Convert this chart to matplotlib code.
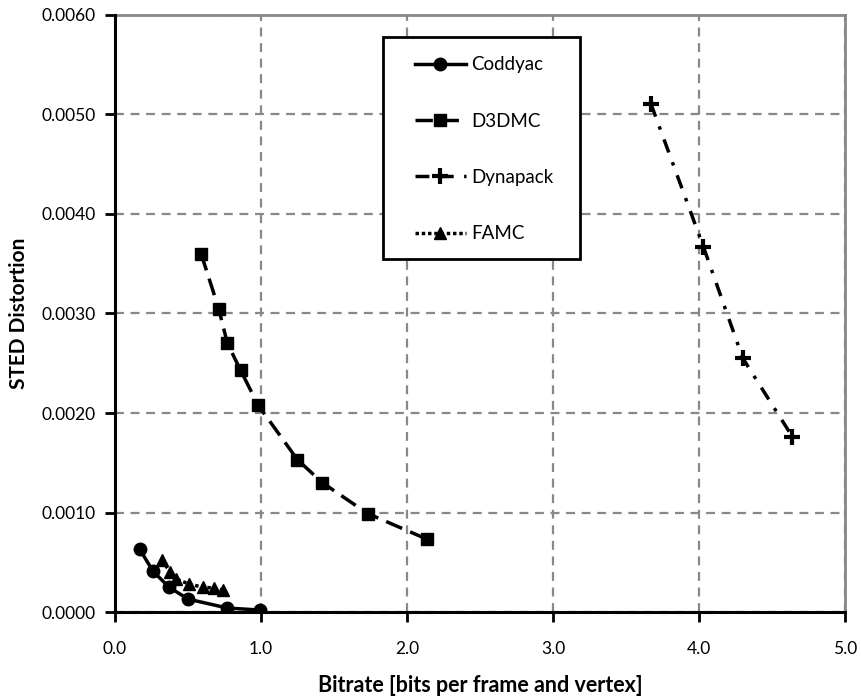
import numpy as np
import matplotlib
matplotlib.use('Agg')
import matplotlib.pyplot as plt
from matplotlib.lines import Line2D
from matplotlib.patches import Rectangle
from matplotlib.ticker import FormatStrFormatter

plt.rcParams['font.family'] = ['Lato', 'DejaVu Sans']

# data
coddyac_x = [0.17, 0.26, 0.37, 0.50, 0.77, 0.99]
coddyac_y = [0.00063, 0.00041, 0.00025, 0.00013, 0.00004, 0.00002]

d3dmc_x = [0.59, 0.71, 0.77, 0.86, 0.98, 1.25, 1.42, 1.73, 2.14]
d3dmc_y = [0.00360, 0.00305, 0.00270, 0.00243, 0.00208, 0.00153, 0.00130, 0.00099, 0.00073]

dynapack_x = [3.67, 4.03, 4.30, 4.64]
dynapack_y = [0.00511, 0.00367, 0.00255, 0.00176]

famc_x = [0.32, 0.38, 0.42, 0.51, 0.60, 0.68, 0.74]
famc_y = [0.00052, 0.00040, 0.00033, 0.00028, 0.00025, 0.00024, 0.00022]

names = ['Coddyac', 'D3DMC', 'Dynapack', 'FAMC']

fig = plt.figure(figsize=(8.62, 7), dpi=100)
ax = fig.add_axes([0.1334, 0.1257, 0.8469, 0.8529])

ax.plot(coddyac_x, coddyac_y, color='black', lw=2.5, ls='-', marker='o', ms=9, zorder=5)
ax.plot(d3dmc_x, d3dmc_y, color='black', lw=2.5, ls=(0, (5, 2.5)), marker='s', ms=8.5, zorder=5)
ax.plot(dynapack_x, dynapack_y, color='black', lw=2.5, ls=(0, (4, 3, 1, 3)), marker='+', ms=12, mew=3, zorder=5)
ax.plot(famc_x, famc_y, color='black', lw=2.5, ls=(0, (1, 0.8)), marker='^', ms=8.5, zorder=5)

ax.set_xlim(0, 5)
ax.set_ylim(0, 0.006)
ax.set_xticks(np.arange(0, 5.01, 1.0))
ax.set_yticks(np.arange(0, 0.00601, 0.001))
ax.xaxis.set_major_formatter(FormatStrFormatter('%.1f'))
ax.yaxis.set_major_formatter(FormatStrFormatter('%.4f'))
ax.tick_params(direction='out', length=7, width=2, labelsize=12.5)
ax.tick_params(axis='x', pad=14)
ax.tick_params(axis='y', pad=7)

ax.grid(True, color='#888888', ls=(0, (4, 3)), lw=1.6)
ax.set_axisbelow(True)
for s in ['top', 'right']:
    ax.spines[s].set_color('#888888')
    ax.spines[s].set_linewidth(2)
for s in ['left', 'bottom']:
    ax.spines[s].set_color('black')
    ax.spines[s].set_linewidth(2.2)
    ax.spines[s].set_zorder(6)

ax.set_xlabel('Bitrate [bits per frame and vertex]', fontsize=15.5, fontweight='bold', labelpad=13)
ax.set_ylabel('STED Distortion', fontsize=15, fontweight='bold', labelpad=9)

# legend box drawn separately so it can be wider than the entries
box = Rectangle((0.367, 0.5913), 0.27, 0.3723, transform=ax.transAxes,
                facecolor='white', edgecolor='black', lw=2, zorder=9)
ax.add_patch(box)

# legend proxies (Dynapack shows as dashed in the legend)
handles = [
    Line2D([], [], color='black', lw=2.5, ls='-', marker='o', ms=9),
    Line2D([], [], color='black', lw=2.5, ls=(0, (5, 2.5)), marker='s', ms=8.5),
    Line2D([], [], color='black', lw=2.5, ls=(0, (4, 3)), marker='+', ms=12, mew=3),
    Line2D([], [], color='black', lw=2.5, ls=(0, (1, 0.8)), marker='^', ms=8.5),
]
leg = ax.legend(handles, names, loc='upper left', bbox_to_anchor=(0.411, 0.931),
                fontsize=13.5, frameon=False, labelspacing=2.1, handlelength=2.7,
                handletextpad=0.3, borderpad=0, borderaxespad=0)
leg.set_zorder(10)

fig.savefig('out.png', dpi=100)
